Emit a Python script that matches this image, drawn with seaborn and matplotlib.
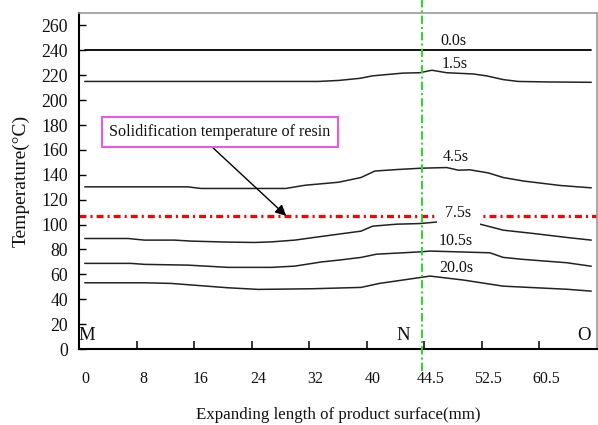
import numpy as np
import pandas as pd
import matplotlib
matplotlib.use("Agg")
import matplotlib.pyplot as plt
import seaborn as sns

# ---------------- data ----------------
# x given in axis category-position units (tick i <-> label i)
x_label_values = ["0", "8", "16", "24", "32", "40", "44.5", "52.5", "60.5"]
y_ticks = list(range(0, 261, 20))

x_00 = [0.10, 8.90]
t_00 = [240, 240]

x_15 = [0.10, 4.16, 4.51, 4.88, 5.10, 5.63, 5.92, 6.13, 6.39, 6.85, 7.08, 7.37, 7.63, 8.13, 8.90]
t_15 = [215, 215, 215.8, 217.5, 219.5, 221.7, 222, 224, 222, 221, 219.5, 216.5, 215, 214.6, 214.3]

x_45 = [0.10, 1.89, 2.12, 3.59, 3.93, 4.51, 4.90, 5.14, 5.52, 5.95, 6.39, 6.59, 6.79, 7.11, 7.37, 7.72, 8.36, 8.90]
t_45 = [130.3, 130.3, 129, 129, 131.6, 134, 137.8, 143, 144.2, 145.3, 145.8, 143.7, 144, 141.5, 137.8, 135, 131.4, 129.5]

x_75 = [0.10, 0.85, 1.14, 1.66, 1.95, 2.59, 3.06, 3.35, 3.75, 4.16, 4.51, 4.90, 5.10, 5.52, 5.92, 6.21, 6.50, 6.97, 7.37, 7.90, 8.48, 8.90]
t_75 = [88.8, 88.8, 87.5, 87.5, 86.7, 85.9, 85.6, 86.1, 87.5, 90.1, 92.3, 94.7, 98.7, 100.3, 100.8, 102, 102, 100.3, 95.5, 92.8, 89.6, 87.5]

x_105 = [0.10, 0.90, 1.14, 1.89, 2.59, 3.35, 3.75, 4.22, 4.51, 4.90, 5.17, 5.95, 6.10, 6.56, 7.14, 7.37, 7.72, 8.48, 8.90]
t_105 = [68.8, 68.8, 68, 67.4, 65.6, 65.6, 66.6, 70, 71.4, 73.6, 76.2, 78.1, 78.7, 78.1, 77.3, 73.6, 72, 69.3, 66.5]

x_200 = [0.10, 1.14, 1.60, 2.59, 3.11, 4.04, 4.51, 4.90, 5.22, 6.10, 6.68, 7.37, 8.48, 8.90]
t_200 = [53.2, 53.2, 52.7, 49.2, 47.9, 48.4, 49, 49.5, 52.7, 58.6, 55.4, 50.5, 48, 46.5]

series_names = ["0.0s", "1.5s", "4.5s", "7.5s", "10.5s", "20.0s"]
series_x = [x_00, x_15, x_45, x_75, x_105, x_200]
series_t = [t_00, t_15, t_45, t_75, t_105, t_200]
label_pos_x = [6.51, 6.52, 6.55, 6.59, 6.55, 6.55]
label_pos_t = [247.2, 229.3, 153.9, 108.9, 86.9, 64.8]

solid_temp = 106.5
n_position = 5.96
point_names = ["M", "N", "O"]
point_x = [0.134, 5.64, 8.78]
point_t = [11, 11, 11]

annot_text = "Solidification temperature of resin"
annot_xy = (3.60, 107)
annot_text_xy = (2.45, 174.4)

# ---------------- plotting ----------------
sns.set_theme(style="white")
plt.rcParams["font.family"] = ["Liberation Serif", "DejaVu Serif"]
plt.rcParams["lines.scale_dashes"] = False

frames = []
for name, xs, ts in zip(series_names, series_x, series_t):
    frames.append(pd.DataFrame({"pos": xs, "temp": ts, "series": name}))
df = pd.concat(frames, ignore_index=True)

fig = plt.figure(figsize=(5.98, 4.25), dpi=100)
ax = fig.add_axes([79 / 598, 1 - 349 / 425, 518 / 598, 336 / 425])

sns.lineplot(data=df[df["series"] != "0.0s"], x="pos", y="temp", units="series",
             estimator=None, sort=False, color="#222222", lw=1.1, ax=ax, legend=False)
sns.lineplot(data=df[df["series"] == "0.0s"], x="pos", y="temp", units="series",
             estimator=None, sort=False, color="black", lw=1.3, ax=ax, legend=False)

ax.axhline(solid_temp, color="#ff0000", lw=2.3, dashes=(5, 2.9, 1.5, 2.9), zorder=2.5)
ax.axvline(n_position, ymin=-0.064, ymax=1.04, clip_on=False, color="#22dd22",
           lw=1.4, dashes=(6, 2.2, 1.5, 2.2), zorder=4)

for name, lx, lt in zip(series_names, label_pos_x, label_pos_t):
    kw = {}
    if name == "7.5s":
        kw["bbox"] = dict(facecolor="white", edgecolor="none", pad=6)
    ax.text(lx, lt, name, ha="center", va="center", fontsize=11.5, color="#111111",
            zorder=5, **kw)

for name, px, pt in zip(point_names, point_x, point_t):
    ax.text(px, pt, name, ha="center", va="center", fontsize=13.5, color="#111111")

ax.annotate(annot_text, xy=annot_xy, xytext=annot_text_xy, ha="center", va="center",
            fontsize=11.6, color="#111111",
            bbox=dict(boxstyle="square,pad=0.45", facecolor="white",
                      edgecolor="#f050f0", lw=1.4),
            arrowprops=dict(arrowstyle="-|>", color="black", lw=1.0,
                            mutation_scale=16, relpos=(0.43, 0.0), shrinkA=0, shrinkB=0),
            zorder=6)

ax.set_xlim(0, 9)
ax.set_ylim(0, 270)

ax.set_xticks([i + 0.11 for i in range(len(x_label_values))])
ax.set_xticklabels(x_label_values, fontsize=11.5)
ax.set_xticks(list(range(1, len(x_label_values))), minor=True)
ax.tick_params(axis="x", which="major", length=0, pad=16, colors="#111111")
ax.tick_params(axis="x", which="minor", direction="in", length=6, width=1.1,
               color="black", bottom=True)

ax.set_yticks(y_ticks)
ax.set_yticklabels([str(v) for v in y_ticks], fontsize=12.8)
ax.tick_params(axis="y", which="major", direction="in", length=5, width=1.0,
               color="black", left=True, pad=8, labelcolor="#111111")

ax.set_xlabel("Expanding length of product surface(mm)", fontsize=12.2, color="#111111")
ax.set_ylabel("Temperature(\u00b0C)", fontsize=14, color="#111111")
ax.xaxis.set_label_coords(0.5, -0.195)
ax.xaxis.label.set_va("center")
ax.yaxis.set_label_coords(-0.111, 0.5)
ax.yaxis.label.set_va("center")

for side in ["left", "bottom"]:
    ax.spines[side].set_color("black")
    ax.spines[side].set_linewidth(1.5)
for side in ["top", "right"]:
    ax.spines[side].set_color("#999999")
    ax.spines[side].set_linewidth(1.2)
ax.grid(False)

fig.savefig("out.png", dpi=100, facecolor="white")
